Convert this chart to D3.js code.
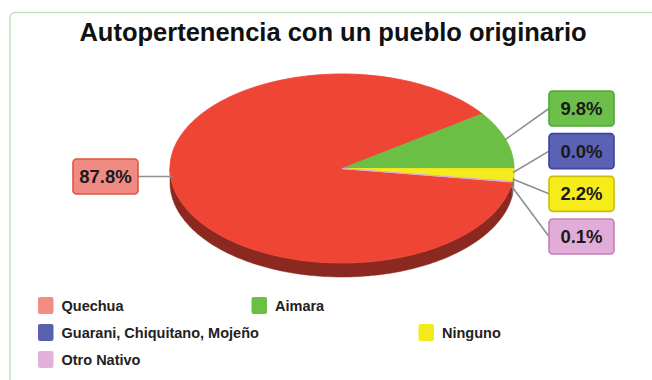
<!DOCTYPE html>
<meta charset="utf-8">
<style>
body { margin: 0; background: #fff; }
text { font-family: "Liberation Sans", Arial, sans-serif; }
.title { font-size: 25.5px; font-weight: bold; fill: #111; }
.pct { font-size: 18.5px; font-weight: bold; fill: #1a1a1a; }
.legend text { font-size: 14.5px; font-weight: bold; fill: #222; }
.leader { stroke: #8f8f8f; stroke-width: 1.6px; fill: none; }
</style>
<body>
<script src="https://d3js.org/d3.v7.min.js"></script>
<script>

// data
var categories = ["Quechua", "Aimara", "Guarani, Chiquitano, Mojeño", "Ninguno", "Otro Nativo"];
var values = [87.8, 9.8, 0.0, 2.2, 0.1];
var titleText = "Autopertenencia con un pueblo originario";

// styles
var pieColors = ["#ee4535", "#6bbf45", "#5a62b3", "#f3ec1c", "#e0a9d6"];
var boxFills = ["#f08b83", "#6cc04a", "#5b62b5", "#f5ec1a", "#e2acd8"];
var boxStrokes = ["#e0553f", "#4fa834", "#3c449c", "#c9bd10", "#c77db8"];
var legendColors = ["#f28d86", "#6bbf45", "#5a60b0", "#f3ea1a", "#e3b1da"];

var width = 652, height = 380;
var cx = 342, cy = 168.5, rx = 172, ry = 94.5, depth = 14;

var svg = d3.select("body").append("svg")
    .attr("width", width)
    .attr("height", height);

// panel border
svg.append("rect")
    .attr("x", 10).attr("y", 12.5)
    .attr("width", 800).attr("height", 500)
    .attr("rx", 5)
    .attr("fill", "none")
    .attr("stroke", "#bfe4bd")
    .attr("stroke-width", 1.6);

svg.append("text")
    .attr("class", "title")
    .attr("x", 333).attr("y", 41)
    .attr("text-anchor", "middle")
    .text(titleText);

var total = d3.sum(values);
// rotate so that Aimara ends at 3 o'clock
var start = Math.PI / 2 - 2 * Math.PI * (values[0] + values[1]) / total;
var pie = d3.pie().sort(null).value(function(d) { return d; })
    .startAngle(start).endAngle(start + 2 * Math.PI);
var slices = pie(values);

function pt(a, dy) {
  return [cx + rx * Math.sin(a), cy - ry * Math.cos(a) + (dy || 0)];
}
function arcPts(a0, a1, dy) {
  var n = Math.max(2, Math.ceil(Math.abs(a1 - a0) / (Math.PI / 180)) + 1);
  return d3.range(n).map(function(i) { return pt(a0 + (a1 - a0) * i / (n - 1), dy); });
}

// side walls (front half only)
var sides = [];
slices.forEach(function(s, i) {
  [-1, 0, 1].forEach(function(k) {
    var lo = Math.max(s.startAngle, Math.PI / 2 + 2 * Math.PI * k);
    var hi = Math.min(s.endAngle, 3 * Math.PI / 2 + 2 * Math.PI * k);
    if (hi > lo) sides.push({i: i, lo: lo, hi: hi});
  });
});

function sidePath(d) {
  var top = arcPts(d.lo, d.hi, 0), bot = arcPts(d.hi, d.lo, depth);
  return "M" + top.concat(bot).join("L") + "Z";
}

svg.selectAll(".side")
  .data(sides)
  .enter().append("path")
    .attr("class", "side")
    .attr("d", sidePath)
    .attr("fill", function(d) { return d3.color(pieColors[d.i]).darker(1.5); })
    .attr("stroke", function(d) { return d3.color(pieColors[d.i]).darker(1.5); })
    .attr("stroke-width", 0.5);

// top face
svg.selectAll(".slice")
  .data(slices)
  .enter().append("path")
    .attr("class", "slice")
    .attr("d", function(d) {
      return "M" + [cx, cy] + "L" + arcPts(d.startAngle, d.endAngle, 0).join("L") + "Z";
    })
    .attr("fill", function(d, i) { return pieColors[i]; })
    .attr("stroke", function(d, i) { return pieColors[i]; })
    .attr("stroke-width", 0.9)
    .attr("stroke-linejoin", "round");

// labels
var boxW = 65, boxH = 35;
var fmt = function(v) { return d3.format(".1f")(v) + "%"; };
var rightY = d3.scalePoint().domain([1, 2, 3, 4]).range([108.5, 236.5]);

var labels = slices.map(function(s, i) {
  var mid = (s.startAngle + s.endAngle) / 2;
  if (i === 0) {
    var y = cy + 8;
    var ex = cx - rx * Math.sqrt(1 - Math.pow((y - cy) / ry, 2));
    var bx = cx - rx - 32 - boxW;
    return {i: i, bx: bx, by: y - boxH / 2, x1: ex + 2, y1: y, x2: bx + boxW, y2: y};
  }
  var p = pt(mid, -Math.cos(mid) > -0.01 ? 4 : 0);
  var bx2 = cx + rx + 35, by = rightY(i);
  return {i: i, bx: bx2, by: by - boxH / 2, x1: p[0] - 1, y1: p[1], x2: bx2, y2: by};
});

svg.selectAll(".leader")
  .data(labels)
  .enter().append("line")
    .attr("class", "leader")
    .attr("x1", function(d) { return d.x1; })
    .attr("y1", function(d) { return d.y1; })
    .attr("x2", function(d) { return d.x2; })
    .attr("y2", function(d) { return d.y2; });

var lab = svg.selectAll(".lab")
  .data(labels)
  .enter().append("g")
    .attr("class", "lab")
    .attr("transform", function(d) { return "translate(" + d.bx + "," + d.by + ")"; });

lab.append("rect")
    .attr("width", boxW).attr("height", boxH)
    .attr("rx", 3.5)
    .attr("fill", function(d) { return boxFills[d.i]; })
    .attr("stroke", function(d) { return boxStrokes[d.i]; })
    .attr("stroke-width", 1.6);

lab.append("text")
    .attr("class", "pct")
    .attr("x", boxW / 2).attr("y", boxH / 2 + 6.5)
    .attr("text-anchor", "middle")
    .text(function(d) { return fmt(values[d.i]); });

// legend
var legendCol = [0, 213.5, 0, 380.5, 0];
var legendRow = [0, 0, 1, 1, 2];

var legend = svg.append("g").attr("class", "legend")
  .selectAll("g")
  .data(categories)
  .enter().append("g")
    .attr("transform", function(d, i) {
      return "translate(" + (38 + legendCol[i]) + "," + (297 + legendRow[i] * 27) + ")";
    });

legend.append("rect")
    .attr("width", 15.5).attr("height", 17)
    .attr("rx", 2)
    .attr("fill", function(d, i) { return legendColors[i]; });

legend.append("text")
    .attr("x", 23.5).attr("y", 14)
    .text(function(d) { return d; });

</script>
</body>
